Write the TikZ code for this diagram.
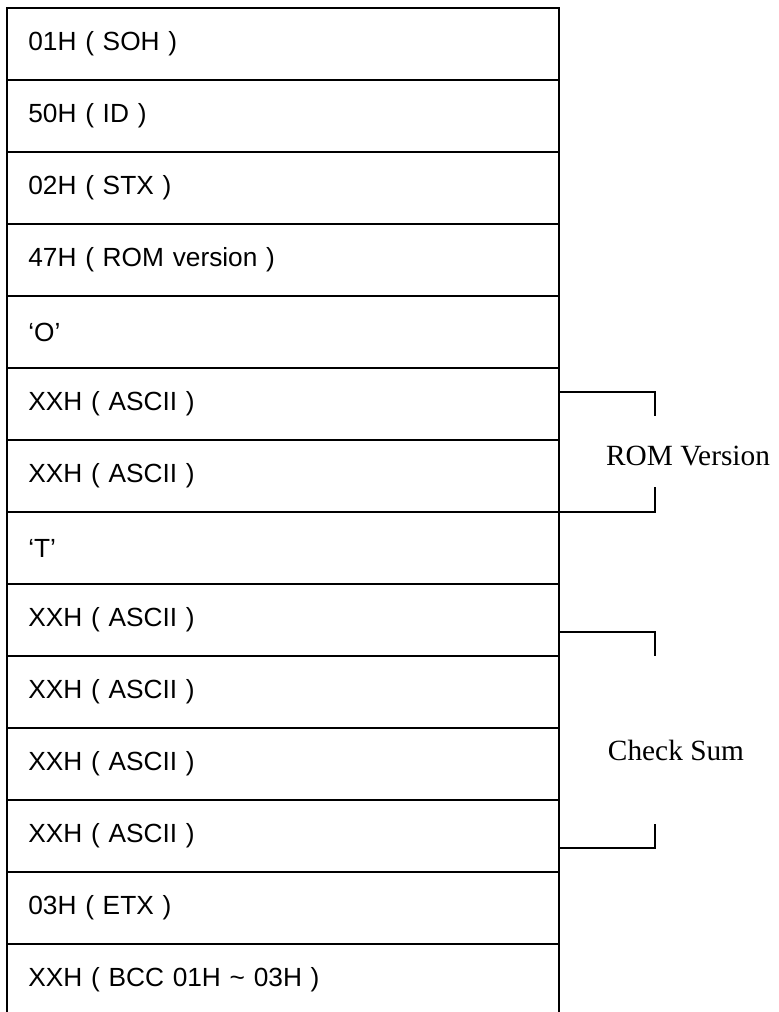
\documentclass[tikz,border=0pt]{standalone}
\usepackage{fontspec}
\setmainfont{Liberation Serif}
\newfontfamily\cellfont{Liberation Sans}
\usetikzlibrary{positioning}
\tikzset{
  cell/.style={
    draw, line width=1.5pt, outer sep=0pt,
    inner xsep=16pt, inner ysep=0pt,
    text width=382pt, align=left, minimum height=54pt,
    font=\cellfont\fontsize{19.7}{24}\selectfont
  },
  brace/.style={line width=1.5pt},
  side/.style={font=\fontsize{22}{26}\selectfont}
}

\begin{document}
\begin{tikzpicture}[x=0.75pt,y=-0.75pt]
\useasboundingbox (0,0) rectangle (778,1012);
\node[cell, anchor=north west] (r1) at (7,8) {01H ( SOH )};
\node[cell, below=0pt of r1] (r2) {50H ( ID )};
\node[cell, below=0pt of r2] (r3) {02H ( STX )};
\node[cell, below=0pt of r3] (r4) {47H ( ROM version )};
\node[cell, below=0pt of r4] (r5) {‘O’};
\node[cell, below=0pt of r5] (r6) {XXH ( ASCII )};
\node[cell, below=0pt of r6] (r7) {XXH ( ASCII )};
\node[cell, below=0pt of r7] (r8) {‘T’};
\node[cell, below=0pt of r8] (r9) {XXH ( ASCII )};
\node[cell, below=0pt of r9] (r10) {XXH ( ASCII )};
\node[cell, below=0pt of r10] (r11) {XXH ( ASCII )};
\node[cell, below=0pt of r11] (r12) {XXH ( ASCII )};
\node[cell, below=0pt of r12] (r13) {03H ( ETX )};
\node[cell, below=0pt of r13] (r14) {XXH ( BCC 01H \textasciitilde\ 03H )};
% rom version bracket
\node[side] (rom) at (688,456) {ROM Version};
\coordinate (romtop) at (655,392);
\coordinate (romtick) at (655,416);
\coordinate (rombot) at (655,487);
\draw[brace] (r6.east |- romtop) -| (romtick);
\draw[brace] (rombot) |- (r7.south east);
% check sum bracket
\node[side] (sum) at (676,750) {Check Sum};
\coordinate (sumtop) at (655,632);
\coordinate (sumtick) at (655,656);
\coordinate (sumbot) at (655,824);
\coordinate (sumend) at (655,848);
\draw[brace] (r9.east |- sumtop) -| (sumtick);
\draw[brace] (sumbot) -- (sumend) -- (r12.east |- sumend);
\end{tikzpicture}
\end{document}
